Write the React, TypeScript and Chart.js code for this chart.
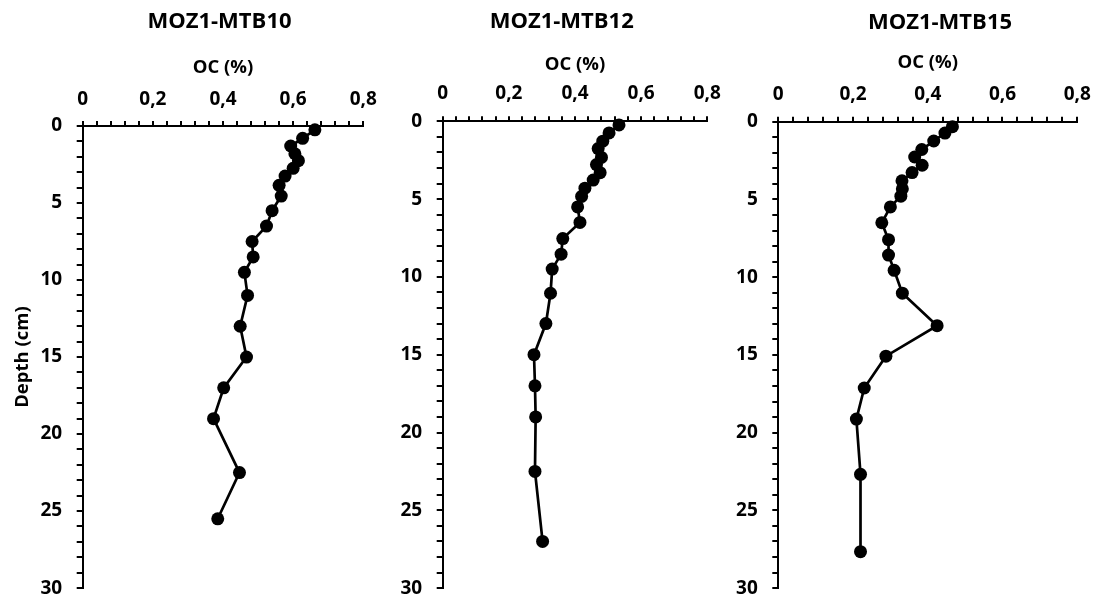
import React, { useEffect, useRef } from 'react';
import { Chart, registerables } from 'chart.js';

Chart.register(...registerables);

// ---------- data ----------
const TITLES = ['MOZ1-MTB10', 'MOZ1-MTB12', 'MOZ1-MTB15'];
const X_TITLE = 'OC (%)';
const Y_TITLE = 'Depth (cm)';
const X_TICK_LABELS = ['0', '0,2', '0,4', '0,6', '0,8'];
const Y_TICK_LABELS = ['0', '5', '10', '15', '20', '25', '30'];

const DEPTH_MTB10 = [0.25, 0.8, 1.3, 1.8, 2.25, 2.75, 3.25, 3.85, 4.55, 5.5, 6.5, 7.5, 8.5, 9.5, 11, 13, 15, 17, 19, 22.5, 25.5];
const OC_MTB10 = [0.662, 0.627, 0.593, 0.605, 0.615, 0.6, 0.577, 0.56, 0.566, 0.54, 0.524, 0.483, 0.486, 0.461, 0.47, 0.449, 0.467, 0.402, 0.373, 0.447, 0.385];

const DEPTH_MTB12 = [0.23, 0.75, 1.28, 1.75, 2.32, 2.78, 3.3, 3.78, 4.3, 4.83, 5.5, 6.5, 7.54, 8.54, 9.5, 11.05, 13, 15, 17, 19, 22.5, 27];
const OC_MTB12 = [0.533, 0.503, 0.484, 0.47, 0.48, 0.465, 0.476, 0.455, 0.43, 0.42, 0.408, 0.415, 0.363, 0.358, 0.331, 0.326, 0.312, 0.276, 0.279, 0.281, 0.279, 0.302];

const DEPTH_MTB15 = [0.32, 0.73, 1.24, 1.79, 2.27, 2.8, 3.27, 3.8, 4.32, 4.79, 5.48, 6.5, 7.59, 8.58, 9.56, 11.03, 13.12, 15.08, 17.13, 19.13, 22.68, 27.66];
const OC_MTB15 = [0.466, 0.446, 0.416, 0.384, 0.365, 0.385, 0.358, 0.331, 0.332, 0.328, 0.3, 0.277, 0.295, 0.295, 0.31, 0.332, 0.425, 0.288, 0.23, 0.209, 0.22, 0.22];

const X_MIN = 0;
const X_MAX = 0.8;
const X_MINOR_STEP = 0.04;
const Y_MIN = 0;
const Y_MAX = 30;
const Y_MINOR_STEP = 1;

// ---------- layout (page coordinates) ----------
const FONT = '"Open Sans", "DejaVu Sans", sans-serif';
const TICK_SIZE = 19;
const AXIS_TITLE_SIZE = 18.5;
const TITLE_SIZE = 22;

const PANELS = [
  { title: TITLES[0], oc: OC_MTB10, depth: DEPTH_MTB10, left: 0, width: 400, plotLeft: 82.7, plotRight: 363.3, plotTop: 126, plotBottom: 591.7, titleX: 219.5, titleY: 27.5, xTitlePad: 56.6, xTickPad: 10, showY: true },
  { title: TITLES[1], oc: OC_MTB12, depth: DEPTH_MTB12, left: 370, width: 370, plotLeft: 442.7, plotRight: 707.3, plotTop: 121.3, plotBottom: 600, titleX: 561.7, titleY: 28.3, xTitlePad: 53.2, xTickPad: 11.2, showY: false },
  { title: TITLES[2], oc: OC_MTB15, depth: DEPTH_MTB15, left: 700, width: 402, plotLeft: 778.3, plotRight: 1081.7, plotTop: 121.7, plotBottom: 596.7, titleX: 940, titleY: 29.3, xTitlePad: 51.9, xTickPad: 11.2, showY: false },
];
const CANVAS_H = 614;

const panelTitlePlugin = {
  id: 'panelTitle',
  afterDraw(chart: any, _args: any, opts: any) {
    const ctx = chart.ctx;
    ctx.save();
    ctx.font = `bold ${TITLE_SIZE}px ${FONT}`;
    ctx.fillStyle = '#000';
    ctx.textAlign = 'center';
    ctx.textBaseline = 'alphabetic';
    ctx.fillText(opts.text, opts.x, opts.y);
    ctx.restore();
  },
};

function xLabel(v: number): string {
  const k = Math.round(v / 0.2);
  if (Math.abs(v - k * 0.2) > 1e-6) return '';
  return X_TICK_LABELS[k] ?? '';
}
function yLabel(v: number): string {
  const k = Math.round(v / 5);
  if (Math.abs(v - k * 5) > 1e-6) return '';
  return Y_TICK_LABELS[k] ?? '';
}

function Panel({ p }: { p: typeof PANELS[number] }) {
  const ref = useRef<HTMLCanvasElement | null>(null);
  useEffect(() => {
    if (!ref.current) return;
    const yW = p.plotLeft - p.left;
    const xH = p.plotTop;
    const padRight = p.left + p.width - p.plotRight;
    const padBottom = CANVAS_H - p.plotBottom;
    const chart = new Chart(ref.current, {
      type: 'scatter',
      data: {
        datasets: [
          {
            data: p.oc.map((v, i) => ({ x: v, y: p.depth[i] })),
            showLine: true,
            borderColor: '#000',
            borderWidth: 2.7,
            backgroundColor: '#000',
            pointBackgroundColor: '#000',
            pointBorderWidth: 0,
            pointRadius: 6.5,
            pointHoverRadius: 6.5,
            clip: false as any,
          },
        ],
      },
      options: {
        animation: false,
        responsive: false,
        maintainAspectRatio: false,
        events: [],
        layout: { padding: { left: 0, top: 0, right: padRight, bottom: padBottom } },
        plugins: {
          legend: { display: false },
          tooltip: { enabled: false },
          title: { display: false },
          panelTitle: { text: p.title, x: p.titleX - p.left, y: p.titleY },
        } as any,
        scales: {
          x: {
            type: 'linear',
            position: 'top',
            min: X_MIN,
            max: X_MAX,
            afterFit: (s: any) => { s.height = xH; },
            ticks: {
              stepSize: X_MINOR_STEP,
              autoSkip: false,
              maxRotation: 0,
              minRotation: 0,
              padding: p.xTickPad,
              color: '#000',
              font: { family: FONT, size: TICK_SIZE, weight: 'bold' },
              callback: (v: any) => xLabel(Number(v)),
            },
            grid: { display: true, drawOnChartArea: false, drawTicks: true, tickLength: 5, color: '#000', lineWidth: 2 },
            border: { display: true, color: '#000', width: 2 },
            title: {
              display: true,
              text: X_TITLE,
              color: '#000',
              font: { family: FONT, size: AXIS_TITLE_SIZE, weight: 'bold' },
              padding: { top: p.xTitlePad, bottom: 0 },
            },
          },
          y: {
            type: 'linear',
            reverse: true,
            min: Y_MIN,
            max: Y_MAX,
            afterFit: (s: any) => { s.width = yW; },
            ticks: {
              stepSize: Y_MINOR_STEP,
              autoSkip: false,
              padding: 14.5,
              color: '#000',
              font: { family: FONT, size: TICK_SIZE, weight: 'bold' },
              callback: (v: any) => yLabel(Number(v)),
            },
            grid: { display: true, drawOnChartArea: false, drawTicks: true, tickLength: 6, color: '#000', lineWidth: 2 },
            border: { display: true, color: '#000', width: 2 },
            title: {
              display: p.showY,
              text: Y_TITLE,
              color: '#000',
              font: { family: FONT, size: AXIS_TITLE_SIZE, weight: 'bold' },
              padding: { top: 12, bottom: 0 },
            },
          },
        },
      },
      plugins: [panelTitlePlugin],
    });
    return () => chart.destroy();
  }, [p]);
  return (
    <canvas
      ref={ref}
      width={p.width}
      height={CANVAS_H}
      style={{ position: 'absolute', left: p.left, top: 0, width: p.width, height: CANVAS_H, display: 'block' }}
    />
  );
}

export default function App() {
  return (
    <div style={{ position: 'absolute', left: 0, top: 0, width: 1102, height: CANVAS_H, background: '#fff', overflow: 'hidden' }}>
      {PANELS.map((p) => (
        <Panel key={p.title} p={p} />
      ))}
    </div>
  );
}
